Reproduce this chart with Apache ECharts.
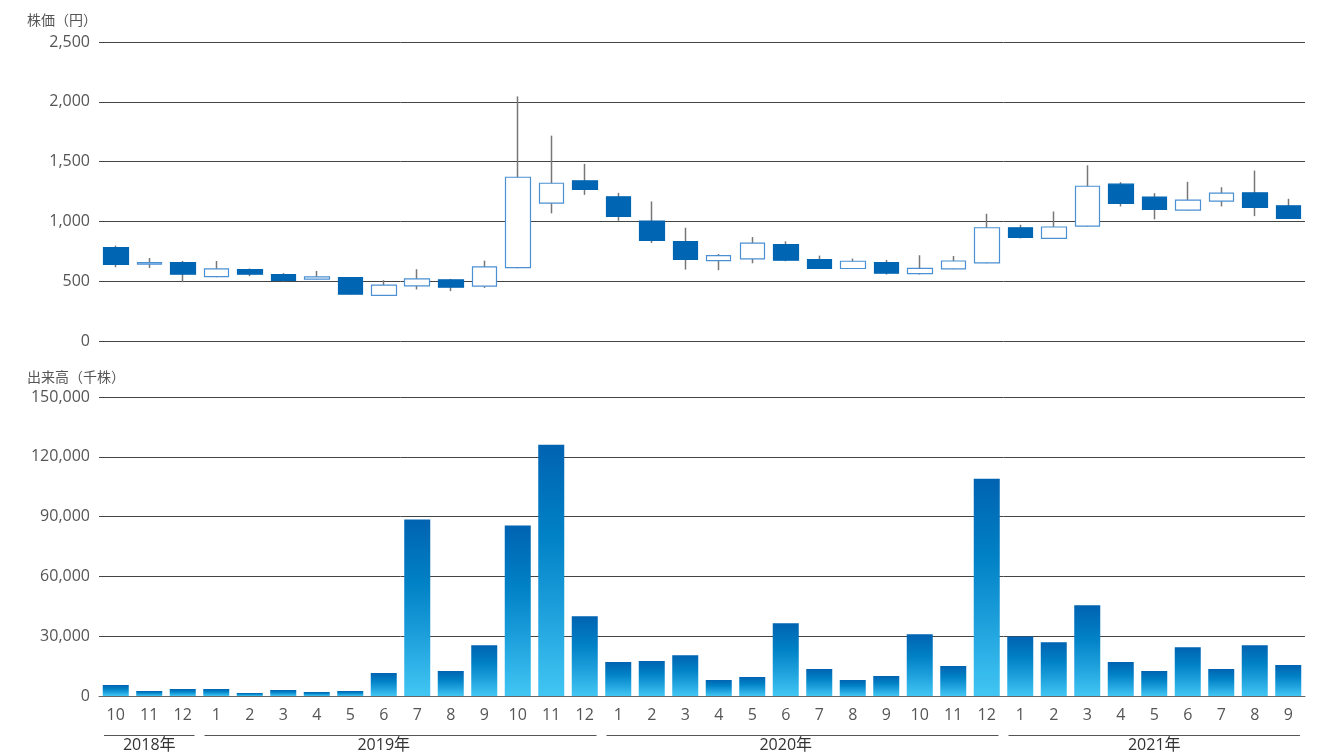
<!DOCTYPE html>
<html><head><meta charset="utf-8">
<script src="https://cdn.jsdelivr.net/npm/echarts@6/dist/echarts.min.js"></script>
<style>html,body{margin:0;padding:0;background:#fff}#c{width:1335px;height:755px}</style>
</head><body><div id="c"></div>
<script>
const months = ['10','11','12','1','2','3','4','5','6','7','8','9','10','11','12','1','2','3','4','5','6','7','8','9','10','11','12','1','2','3','4','5','6','7','8','9'];
const openP  = [780,643,655,539,597,556,517,531,381,461,511,458,614,1153,1339,1206,1003,831,672,686,806,681,606,656,564,603,653,947,858,961,1311,1203,1094,1169,1239,1131];
const closeP = [641,655,558,603,558,506,536,392,467,519,450,619,1369,1319,1267,1042,842,683,714,819,675,608,667,567,608,669,947,867,953,1294,1150,1100,1178,1236,1117,1025];
const lowP   = [617,611,492,533,542,497,515,390,380,431,417,444,608,1067,1222,1006,819,597,592,650,667,603,604,556,556,600,650,858,856,956,1125,1017,1092,1125,1044,1020];
const highP  = [797,694,670,669,606,567,586,533,508,600,519,672,2045,1717,1481,1239,1167,947,728,869,833,714,689,678,717,711,1064,972,1083,1469,1328,1236,1331,1286,1425,1189];
const volume = [5500,2500,3500,3500,1500,3000,2000,2500,11500,88500,12500,25500,85500,126000,40000,17000,17500,20500,8000,9500,36500,13500,8000,10000,31000,15000,109000,29800,27000,45500,17000,12500,24500,13500,25500,15500];
const priceTicks = [0,500,1000,1500,2000,2500];
const volTicks = [0,30000,60000,90000,120000,150000];
const years = ['2018年','2019年','2020年','2021年'];
const yearStart = [0,3,15,27];
const yearEnd = [2,14,26,35];
const yearLabelAt = [1,8,20,31];

const FONT = "'Open Sans','Noto Sans CJK JP',sans-serif";
const TXT = '#555';
const GRID_LINE = '#444';

const wickData = openP.map((o,i)=>[o, closeP[i], lowP[i], highP[i]]);
const bodyData = openP.map((o,i)=>[o, closeP[i], Math.min(o,closeP[i]), Math.max(o,closeP[i])]);

const chart = echarts.init(document.getElementById('c'), null, {renderer:'canvas'});
const yAxisCommon = {
  type:'value', axisLine:{show:false}, axisTick:{show:false},
  axisLabel:{color:TXT, fontSize:16, fontFamily:FONT, margin:9,
    formatter:v=>v.toLocaleString('en-US')},
  splitLine:{show:true, lineStyle:{color:GRID_LINE, width:1}}
};
chart.setOption({
  animation:false,
  title:[
    {text:'株価（円）', left:22, top:9, textStyle:{color:TXT, fontSize:14, fontWeight:'normal', fontFamily:FONT}},
    {text:'出来高（千株）', left:22, top:366, textStyle:{color:TXT, fontSize:14, fontWeight:'normal', fontFamily:FONT}}
  ],
  grid:[
    {left:99, right:30, top:42, height:299},
    {left:99, right:30, top:397, height:299}
  ],
  xAxis:[
    {type:'category', gridIndex:0, data:months, boundaryGap:true, axisLine:{show:false}, axisTick:{show:false}, axisLabel:{show:false}, splitLine:{show:false}},
    {type:'category', gridIndex:1, data:months, boundaryGap:true, axisLine:{show:true, lineStyle:{color:'#666'}}, axisTick:{show:false},
     axisLabel:{color:TXT, fontSize:16, fontFamily:FONT, margin:11, interval:0}}
  ],
  yAxis:[
    Object.assign({gridIndex:0, min:priceTicks[0], max:priceTicks[priceTicks.length-1], interval:500}, yAxisCommon),
    Object.assign({gridIndex:1, min:volTicks[0], max:volTicks[volTicks.length-1], interval:30000}, yAxisCommon)
  ],
  series:[
    {type:'candlestick', xAxisIndex:0, yAxisIndex:0, data:wickData, barWidth:1, z:2,
     itemStyle:{color:'#777', color0:'#777', borderColor:'#777', borderColor0:'#777', borderWidth:1.5}},
    {type:'candlestick', xAxisIndex:0, yAxisIndex:0, data:bodyData, barWidth:25, z:3,
     itemStyle:{color:'#ffffff', color0:'#0066b3', borderColor:'#4b90d2', borderColor0:'#0066b3', borderWidth:1.2}},
    {type:'bar', xAxisIndex:1, yAxisIndex:1, data:volume, barWidth:26, z:3,
     itemStyle:{color:new echarts.graphic.LinearGradient(0,0,0,1,[
       {offset:0,color:'#0063b1'},{offset:0.35,color:'#0080c5'},{offset:0.65,color:'#1c9edb'},{offset:1,color:'#42c6f3'}])}}
  ]
});

function px(i){ return chart.convertToPixel({xAxisIndex:1}, i); }
const half = (px(1)-px(0))/2;
const graphics = [];
years.forEach((y,k)=>{
  const x1 = px(yearStart[k]) - half + 5;
  const x2 = px(yearEnd[k]) + half - 5;
  graphics.push({type:'line', shape:{x1:x1, y1:735.5, x2:x2, y2:735.5}, style:{stroke:'#555', lineWidth:1.2}, silent:true});
  graphics.push({type:'text', x:px(yearLabelAt[k]), y:745, style:{text:y, fill:'#333', font:'16px '+FONT, textAlign:'center', textVerticalAlign:'middle'}, silent:true});
});
chart.setOption({graphic:graphics});
</script>
</body></html>
